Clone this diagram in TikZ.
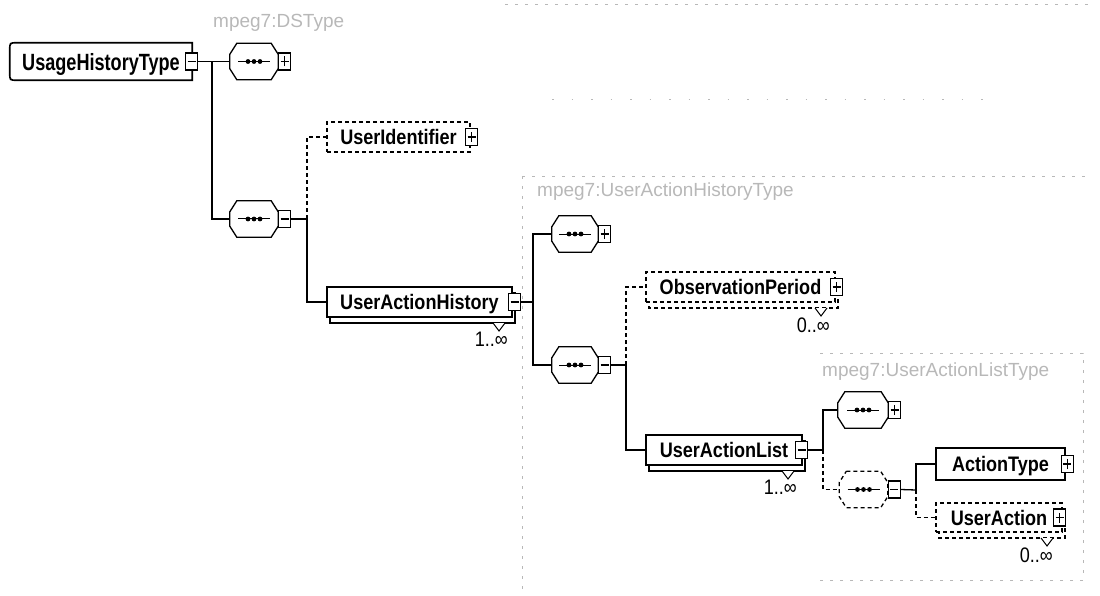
\documentclass[tikz,border=0pt]{standalone}
\usepackage{fontspec}
\newfontfamily\labfont{Liberation Sans}[FakeStretch=0.86]
\newfontfamily\rootfont{Liberation Sans}[FakeStretch=0.77]
\newfontfamily\typefont{Liberation Sans}
\usetikzlibrary{calc}

\tikzset{
  elemtext/.style={font=\labfont\bfseries\fontsize{21}{24}\selectfont, text depth=0pt, inner sep=0pt},
  elem/.style={elemtext, draw, line width=1.3pt, fill=white},
  optelem/.style={elem, dash pattern=on 4pt off 3pt},
  shadowsolid/.style={draw, line width=1.3pt, fill=white},
  shadowdash/.style={shadowsolid, dash pattern=on 4pt off 3pt},
  notch/.style={draw, line width=1pt, fill=white},
  btn/.style={draw, line width=1.1pt, fill=white, minimum width=12pt, minimum height=17pt, inner sep=0pt},
  sign/.style={line width=1.2pt},
  conn/.style={line width=1.3pt},
  optconn/.style={conn, dash pattern=on 4pt off 3pt},
  seqbb/.style={inner sep=0pt, minimum height=36pt},
  octo/.style={line width=1.3pt, fill=white},
  multlbl/.style={font=\labfont\fontsize{21}{23}\selectfont, inner sep=0pt, anchor=north east},
  typelbl/.style={font=\typefont\fontsize{19}{22}\selectfont, text=black!28, inner sep=0pt, anchor=west},
  faint/.style={black!28, line width=0.8pt, dash pattern=on 3pt off 7pt},
  rootbox/.style={font=\rootfont\bfseries\fontsize{23.5}{26}\selectfont, text depth=0pt, inner sep=0pt},
  rootline/.style={line width=1.7pt},
}

\newcommand\btnm[2]{\node[btn] (#1) at (#2) {};
  \draw[sign] ([xshift=-4pt]#1.center) -- ([xshift=4pt]#1.center);}
\newcommand\btnp[2]{\btnm{#1}{#2}
  \draw[sign] ([yshift=-5pt]#1.center) -- ([yshift=5pt]#1.center);}
\newcommand\seqnode[4]{%
  \node[seqbb, minimum width=#3] (#1) at (#2) {};
  \draw[octo,#4] ([xshift=7pt]#1.north west) -- ([xshift=-7pt]#1.north east) -- ([yshift=-11pt]#1.north east) -- ([yshift=11pt]#1.south east) -- ([xshift=-7pt]#1.south east) -- ([xshift=7pt]#1.south west) -- ([yshift=11pt]#1.south west) -- ([yshift=-11pt]#1.north west) -- cycle;
  \draw[line width=1pt] ([xshift=-16pt]#1.center) -- ([xshift=16pt]#1.center);
  \foreach \dx in {-6,0,6} {\fill ([xshift=\dx pt]#1.center) circle (2.4pt);}
}

\begin{document}
\begin{tikzpicture}[x=1pt,y=-1pt]
\useasboundingbox (0,0) rectangle (1100,596);

% faint type frames
\draw[faint] (505,4) -- (1095,4);
\draw[faint, dash pattern=on 1.5pt off 18pt] (552,99) -- (1000,99);
\draw[faint] (522,176) -- (1092,176);
\draw[faint] (522,176) -- (522,596);
\draw[faint] (820,353) -- (1083,353) -- (1083,580) -- (820,580);
\node[typelbl] (t1) at (213,23) {mpeg7:DSType};
\node[typelbl] (t2) at (537,192) {mpeg7:UserActionHistoryType};
\node[typelbl] (t3) at (822,372) {mpeg7:UserActionListType};

% root
\node[rootbox, minimum width=182pt, minimum height=37pt] (root) at (101,61.5) {UsageHistoryType};
\draw[rootline] (root.north east) -- ([xshift=7pt]root.north west) .. controls (root.north west) .. ([yshift=-7pt]root.north west) -- ([yshift=7pt]root.south west) .. controls (root.south west) .. ([xshift=7pt]root.south west) -- (root.south east) -- cycle;
\btnm{rootb}{[xshift=-0.5pt]root.east}

% level 1 sequences
\seqnode{s1}{254,61.5}{48pt}{}
\btnp{b1}{[xshift=6.5pt]s1.east}
\seqnode{s2}{254,219}{48pt}{}
\btnm{b2}{[xshift=6.5pt]s2.east}
\coordinate (j1) at (212,61.5);
\draw[conn] (rootb.east) -- (s1.west);
\draw[conn] (j1) |- (s2.west);

% UserIdentifier
\node[optelem, minimum width=143pt, minimum height=30pt] (uid) at (398.5,137) {UserIdentifier};
\btnp{uidb}{[xshift=1pt]uid.east}

% UserActionHistory
\draw[shadowsolid] (330,293) rectangle (515,323);
\draw[notch] (493,323) -- (499,331) -- (505,323);
\node[elem, minimum width=185pt, minimum height=30pt] (uah) at (419.5,302) {UserActionHistory};
\btnm{uahb}{[xshift=2pt]uah.east}
\node[multlbl] (uahm) at (508,332) {1..∞};

\coordinate (j2) at (307,219);
\draw[conn] (b2.east) -- (j2);
\draw[optconn] (j2) |- (uid.west);
\draw[conn] (j2) |- (uah.west);

% level 2 sequences
\seqnode{s3}{575,234}{46pt}{}
\btnp{b3}{[xshift=6.5pt]s3.east}
\seqnode{s4}{575,365}{46pt}{}
\btnm{b4}{[xshift=6.5pt]s4.east}
\coordinate (j3) at (533,302);
\draw[conn] (uahb.east) -- (j3);
\draw[conn] (j3) |- (s3.west);
\draw[conn] (j3) |- (s4.west);

% ObservationPeriod
\draw[shadowdash] (649,278) rectangle (838,308);
\draw[notch] (815,308) -- (821,316) -- (827,308);
\node[optelem, minimum width=189pt, minimum height=30pt] (op) at (740.5,287) {ObservationPeriod};
\btnp{opb}{[xshift=1pt]op.east}
\node[multlbl] (opm) at (830,318) {0..∞};

% UserActionList
\draw[shadowsolid] (649,441) rectangle (805,471);
\draw[notch] (782,471) -- (788,479) -- (794,471);
\node[elem, minimum width=156pt, minimum height=30pt] (ual) at (724,450) {UserActionList};
\btnm{ualb}{[xshift=-1pt]ual.east}
\node[multlbl] (ualm) at (797,480) {1..∞};

\coordinate (j4) at (626,365);
\draw[conn] (b4.east) -- (j4);
\draw[optconn] (j4) |- (op.west);
\draw[conn] (j4) |- (ual.west);

% level 3 sequences
\seqnode{s5}{863,410}{50pt}{}
\btnp{b5}{[xshift=6.5pt]s5.east}
\seqnode{s6}{863.5,489.5}{48pt}{dash pattern=on 4pt off 3pt}
\btnm{b6}{[xshift=6.5pt]s6.east}
\coordinate (j5) at (823,450);
\draw[conn] (ualb.east) -- (j5);
\draw[conn] (j5) |- (s5.west);
\draw[optconn] (j5) |- (s6.west);

% ActionType
\node[elem, minimum width=129pt, minimum height=32pt] (at) at (1000.5,464) {ActionType};
\btnp{atb}{[xshift=1.5pt]at.east}

% UserAction
\draw[shadowdash] (939,509) rectangle (1065,538);
\draw[notch] (1041,538) -- (1047,546) -- (1053,538);
\node[optelem, minimum width=126pt, minimum height=29pt] (ua) at (999,517.5) {UserAction};
\btnp{uab}{[xshift=-3pt]ua.east}
\node[multlbl] (uam) at (1053,548) {0..∞};

\coordinate (j6) at (916,490);
\draw[conn] (b6.east) -- (j6);
\draw[conn] (j6) |- (at.west);
\draw[optconn] (j6) |- (ua.west);
\end{tikzpicture}
\end{document}
